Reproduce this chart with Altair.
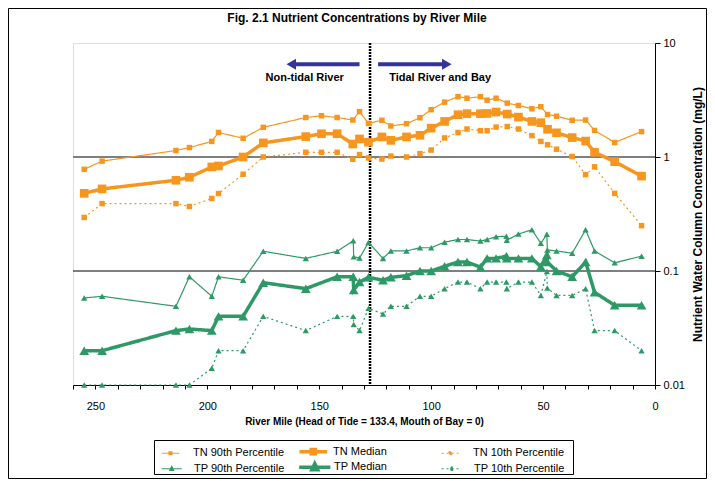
import altair as alt
import pandas as pd

# ---------------- data ----------------
TN_MILE = [255, 247, 214, 208, 198, 195, 184, 175, 156, 149, 142, 135, 132, 128, 122, 118, 111, 105,
           100, 94, 88, 84, 78, 75, 71, 66, 61, 55, 51, 48, 44, 37, 31, 27, 18, 6]
TN_P90 = [0.78, 0.92, 1.14, 1.21, 1.37, 1.64, 1.46, 1.82, 2.22, 2.30, 2.22, 2.11, 2.50, 1.97, 2.10, 1.87,
          1.96, 2.21, 2.60, 3.03, 3.38, 3.28, 3.38, 3.15, 3.28, 2.97, 2.83, 2.65, 2.76, 2.36, 2.28, 2.10,
          2.11, 1.71, 1.34, 1.67]
TN_MED = [0.48, 0.525, 0.625, 0.664, 0.818, 0.834, 1.0, 1.33, 1.51, 1.60, 1.60, 1.30, 1.44, 1.35, 1.50,
          1.40, 1.50, 1.55, 1.79, 2.05, 2.35, 2.40, 2.40, 2.41, 2.48, 2.38, 2.24, 2.05, 2.0, 1.75, 1.63,
          1.48, 1.38, 1.10, 0.91, 0.68]
TN_P10 = [0.295, 0.39, 0.39, 0.368, 0.433, 0.478, 0.706, 1.0, 1.10, 1.10, 1.10, 0.955, 1.05, 0.98, 0.96,
          1.02, 1.0, 1.07, 1.15, 1.47, 1.64, 1.76, 1.70, 1.70, 1.83, 1.85, 1.76, 1.54, 1.37, 1.28, 1.17,
          1.01, 0.70, 0.82, 0.48, 0.25]

TP_MILE = [255, 247, 214, 208, 198, 195, 184, 175, 156, 142, 134.8, 134.6, 132, 128, 121.5, 118, 111,
           105, 100, 94, 88, 84, 78, 75, 71, 66.4, 66.2, 61, 55, 51, 48.3, 48.1, 44, 37, 31, 27, 18, 6]
TP_P90 = [0.058, 0.06, 0.049, 0.089, 0.06, 0.089, 0.083, 0.149, 0.129, 0.149, 0.184, 0.133, 0.13, 0.178,
          0.129, 0.15, 0.15, 0.16, 0.16, 0.179, 0.189, 0.189, 0.183, 0.189, 0.20, 0.202, 0.186, 0.211,
          0.23, 0.175, 0.21, 0.153, 0.15, 0.143, 0.23, 0.15, 0.118, 0.135]
TP_MED = [0.02, 0.02, 0.03, 0.031, 0.03, 0.04, 0.04, 0.079, 0.07, 0.089, 0.089, 0.068, 0.08, 0.088,
          0.083, 0.088, 0.091, 0.1, 0.1, 0.11, 0.12, 0.12, 0.108, 0.129, 0.129, 0.135, 0.129, 0.129,
          0.129, 0.109, 0.138, 0.12, 0.1, 0.089, 0.12, 0.065, 0.05, 0.05]
TP_P10 = [0.01, 0.01, 0.01, 0.01, 0.014, 0.02, 0.02, 0.04, 0.03, 0.04, 0.04, 0.034, 0.03, 0.047, 0.042,
          0.049, 0.049, 0.06, 0.06, 0.07, 0.08, 0.08, 0.07, 0.08, 0.08, 0.08, 0.07, 0.08, 0.08, 0.061,
          0.099, 0.071, 0.061, 0.061, 0.07, 0.03, 0.03, 0.02]

TN_SERIES = ["TN 90th Percentile", "TN Median", "TN 10th Percentile"]
TP_SERIES = ["TP 90th Percentile", "TP Median", "TP 10th Percentile"]

HEAD_OF_TIDE_LINE = [127.3]
GRID_LEVELS = [1, 0.1]
ARROW_FROM = [132.0, 123.7]
ARROW_TO = [161.0, 94.5]
ARROW_HEAD = [162.5, 93.0]
ARROW_HEAD_SHAPE = ["triangle-left", "triangle-right"]
ARROW_LEVEL = [6.5, 6.5]
ZONE_LABELS = ["Non-tidal River", "Tidal River and Bay"]
ZONE_LABEL_MILE = [156.5, 96.0]
ZONE_LABEL_LEVEL = [4.9, 4.9]

TITLE = "Fig. 2.1 Nutrient Concentrations by River Mile"
X_TITLE = "River Mile (Head of Tide = 133.4,  Mouth of Bay = 0)"
Y_TITLE = "Nutrient Water Column Concentration (mg/L)"
X_TICKS = list(range(0, 261, 10))
Y_TICKS = [0.01, 0.1, 1, 10]

ORANGE = "#F7961E"
GREEN = "#2E9966"
NAVY = "#333399"
FONT = "Liberation Sans"

W, H = 582, 342
PAD = {"left": 65, "top": 35, "right": 52, "bottom": 94}


def long_table(miles, cols, names):
    rows = []
    for name, vals in zip(names, cols):
        for i, (m, v) in enumerate(zip(miles, vals)):
            rows.append({"mile": m, "value": v, "series": name, "idx": i})
    return pd.DataFrame(rows)


tn_df = long_table(TN_MILE, [TN_P90, TN_MED, TN_P10], TN_SERIES)
tp_df = long_table(TP_MILE, [TP_P90, TP_MED, TP_P10], TP_SERIES)

x_axis = alt.Axis(values=X_TICKS, labelExpr="datum.value % 50 == 0 ? datum.label : ''",
                  title=X_TITLE, grid=False, domainColor="black", tickColor="black", tickSize=4,
                  labelFont=FONT, labelFontSize=11, labelColor="black", labelPadding=11,
                  titleFont=FONT, titleFontSize=10, titleFontWeight="bold", titleColor="black",
                  titlePadding=5, labelFlush=False)
y_axis = alt.Axis(orient="right", values=Y_TICKS, format="~g", title=Y_TITLE, grid=False,
                  domainColor="black", tickColor="black", tickSize=5,
                  labelFont=FONT, labelFontSize=11, labelColor="black", labelPadding=3,
                  titleFont=FONT, titleFontSize=12, titleFontWeight="bold", titleColor="black",
                  titleAngle=270, titlePadding=20, labelFlush=False)

XS = alt.Scale(domain=[0, 260], reverse=True, nice=False, zero=False)
X = alt.X("mile:Q", scale=XS, axis=x_axis)
Y = alt.Y("value:Q", scale=alt.Scale(type="log", domain=[0.01, 10], nice=False), axis=y_axis)

# legend symbols: a short line with the series marker in its middle (units of 5 px)
SQUARE_PATH = "M-1.4,0H5M1.3,-0.5H2.3V0.5H1.3Z"
TRIANGLE_PATH = "M-1.4,0H5M1.8,-0.75L2.4,0.5H1.2Z"


def group(df, names, color, path, shape, sizes, legend_y):
    leg = alt.Legend(title=None, orient="none", legendX=86, legendY=legend_y, direction="horizontal",
                     columns=3, gridAlign="all", columnPadding=7, padding=0,
                     symbolType=path, symbolFillColor=color, symbolOffset=0,
                     labelFont=FONT, labelFontSize=11, labelColor="black", labelOffset=21)
    cscale = alt.Scale(domain=names, range=[color] * 3)
    line = alt.Chart(df).mark_line(clip=False).encode(
        x=X, y=Y,
        color=alt.Color("series:N", scale=cscale, legend=leg),
        strokeDash=alt.StrokeDash("series:N", scale=alt.Scale(domain=names, range=[[1, 0], [1, 0], [2, 3]]),
                                  legend=leg),
        strokeWidth=alt.StrokeWidth("series:N", scale=alt.Scale(type="ordinal", domain=names,
                                                                range=[1.2, 3.5, 1.2]), legend=leg),
        order=alt.Order("idx:Q"),
    )
    pts = alt.Chart(df).mark_point(shape=shape, filled=True, opacity=1, clip=False).encode(
        x=X, y=Y,
        color=alt.Color("series:N", scale=cscale, legend=None),
        size=alt.Size("series:N", scale=alt.Scale(type="ordinal", domain=names, range=sizes), legend=None),
    )
    return alt.layer(line, pts)


tn = group(tn_df, TN_SERIES, ORANGE, SQUARE_PATH, "square", [30, 75, 30], 402)
tp = group(tp_df, TP_SERIES, GREEN, TRIANGLE_PATH, "triangle-up", [40, 95, 40], 417)

grid_df = pd.DataFrame({"value": GRID_LEVELS, "c": ["#7f7f7f", "black"], "w": [2, 1]})
grid = alt.Chart(grid_df).mark_rule().encode(
    y=Y, stroke=alt.Stroke("c:N", scale=None), strokeWidth=alt.StrokeWidth("w:Q", scale=None))

vline = alt.Chart(pd.DataFrame({"mile": HEAD_OF_TIDE_LINE})).mark_rule(
    color="black", strokeWidth=2.5, strokeDash=[2, 1]).encode(x=X)

arrow_df = pd.DataFrame({"mile": ARROW_FROM, "mile2": ARROW_TO, "head": ARROW_HEAD,
                         "shape": ARROW_HEAD_SHAPE, "value": ARROW_LEVEL})
shafts = alt.Chart(arrow_df).mark_rule(color=NAVY, strokeWidth=4).encode(x=X, x2="mile2:Q", y=Y)
heads = alt.Chart(arrow_df).mark_point(filled=True, color=NAVY, opacity=1, size=120).encode(
    x=alt.X("head:Q", scale=XS, axis=x_axis), y=Y, shape=alt.Shape("shape:N", scale=None))

label_df = pd.DataFrame({"mile": ZONE_LABEL_MILE, "value": ZONE_LABEL_LEVEL, "t": ZONE_LABELS})
labels = alt.Chart(label_df).mark_text(font=FONT, fontSize=11, fontWeight="bold", color="black").encode(
    x=X, y=Y, text="t:N")

one = pd.DataFrame({"t": [TITLE]})
title = alt.Chart(one).mark_text(font=FONT, fontSize=12, fontWeight="bold", color="black",
                                 align="center", baseline="middle").encode(
    x=alt.value(W / 2 - 7), y=alt.value(-25), text="t:N")
outer = alt.Chart(one).mark_rect(fillOpacity=0, stroke="black", strokeWidth=1).encode(
    x=alt.value(-PAD["left"] + 0.5), x2=alt.value(W + PAD["right"] - 0.5),
    y=alt.value(-PAD["top"] + 0.5), y2=alt.value(H + PAD["bottom"] - 0.5))
legend_box = alt.Chart(one).mark_rect(fillOpacity=0, stroke="black", strokeWidth=1).encode(
    x=alt.value(81.5), x2=alt.value(500.5), y=alt.value(397.5), y2=alt.value(431.5))

chart = alt.layer(grid, vline, shafts, heads, labels, tn, tp, title, outer, legend_box).resolve_scale(
    color="independent", strokeDash="independent", strokeWidth="independent", size="independent",
    shape="independent", stroke="independent"
).properties(
    width=W, height=H,
    autosize=alt.AutoSizeParams(type="none"),
    padding=PAD,
).configure_view(stroke="#808080", strokeWidth=1).configure(background="white")

chart.save("out.html", embed_options={"renderer": "svg", "actions": False})
